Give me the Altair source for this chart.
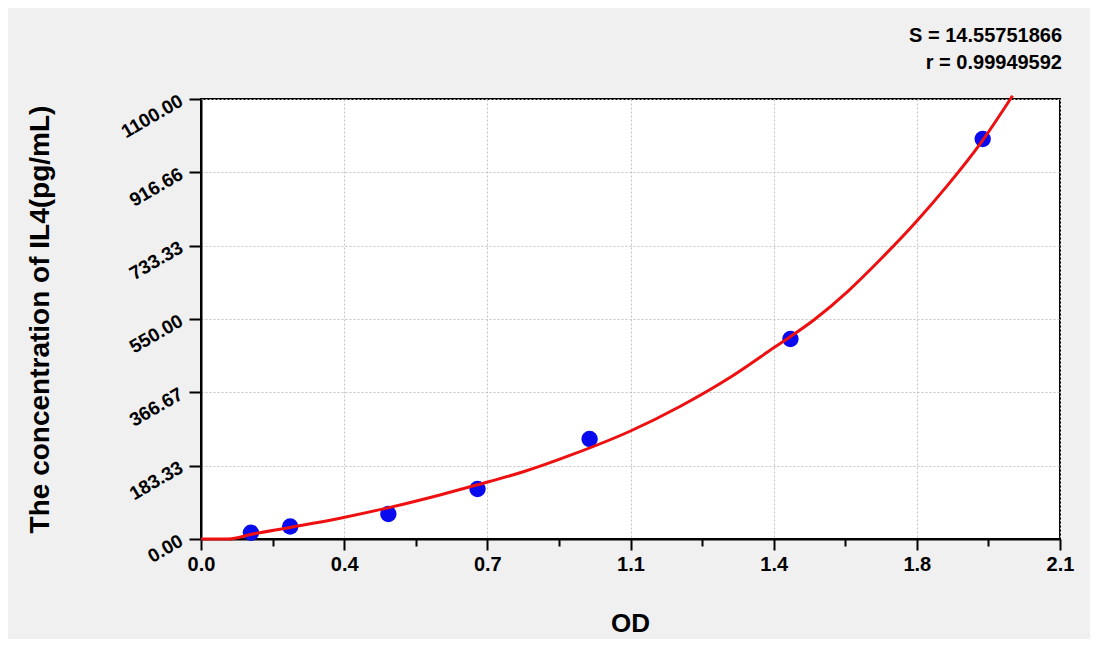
import altair as alt
import pandas as pd

# Standard points
od = [0.122, 0.218, 0.458, 0.676, 0.950, 1.441, 1.911]
conc = [15.6, 31.25, 62.5, 125, 250, 500, 1000]

# Fitted curve
curve_od = [0.0, 0.067, 0.124, 0.218, 0.34, 0.462, 0.584, 0.674, 0.788, 0.91,
            1.05, 1.172, 1.295, 1.4, 1.499, 1.58, 1.662, 1.75, 1.825, 1.907, 1.984]
curve_conc = [0, 0, 12, 29, 52, 79, 110, 135, 168, 212,
              270, 332, 405, 478, 548, 618, 700, 795, 884, 991, 1108]

x_major = [0.0, 0.35, 0.7, 1.05, 1.4, 1.75, 2.1]
y_major = [0.0, 183.33, 366.67, 550.0, 733.33, 916.66, 1100.0]
stats = ["S = 14.55751866", "r = 0.99949592"]

x_title = "OD"
y_title = "The concentration of IL4(pg/mL)"

def subdiv(majors, n=4):
    out = list(majors)
    for a, b in zip(majors[:-1], majors[1:]):
        for k in range(1, n):
            out.append(a + (b - a) * k / n)
    return sorted(out)

x_all = subdiv(x_major)
y_all = subdiv(y_major)

def js_arr(v):
    return "[" + ",".join(repr(float(t)) for t in v) + "]"

x_test = f"indexof({js_arr(x_major)}, datum.value) >= 0"
y_test = f"indexof({js_arr(y_major)}, datum.value) >= 0"

pts = pd.DataFrame({"od": od, "conc": conc})
crv = pd.DataFrame({"od": curve_od, "conc": curve_conc})
txt = pd.DataFrame({"t": stats, "row": [0, 1]})

FONT = "Liberation Sans"

x_scale = alt.Scale(domain=[0, 2.1], nice=False, zero=False)
y_scale = alt.Scale(domain=[0, 1100], nice=False, zero=False)

x_axis = alt.Axis(
    values=x_all,
    labelExpr=f"{x_test} ? format(datum.value + 0.001, '.1f') : ''",
    tickSize={"condition": {"test": x_test, "value": 11}, "value": 7},
    gridColor={"condition": {"test": x_test, "value": "#C4C4C4"}, "value": "transparent"},
    gridDash=[2, 2], gridWidth=1, grid=True,
    labelFont=FONT, labelFontSize=20, labelFontWeight="bold", labelColor="black",
    labelPadding=4, labelOverlap=False, labelFlush=False,
    domainColor="black", domainWidth=2, tickColor="black", tickWidth=2,
    title=x_title, titleFont=FONT, titleFontSize=26, titleFontWeight="bold",
    titleColor="black", titleX=429, titleY=84, titleBaseline="middle", titleAlign="center",
)

y_axis = alt.Axis(
    values=y_all,
    labelExpr=f"{y_test} ? format(datum.value, '.2f') : ''",
    tickSize={"condition": {"test": y_test, "value": 12}, "value": 7},
    gridColor={"condition": {"test": y_test, "value": "#C4C4C4"}, "value": "transparent"},
    gridDash=[2, 2], gridWidth=1, grid=True,
    labelFont=FONT, labelFontSize=19, labelFontWeight="bold", labelColor="black",
    labelAngle=330, labelAlign="right", labelBaseline="middle",
    labelPadding=8, labelOverlap=False, labelFlush=False, labelBound=False,
    domainColor="black", domainWidth=2, tickColor="black", tickWidth=2,
    title=y_title, titleFont=FONT, titleFontSize=28, titleFontWeight="bold",
    titleColor="black", titleAngle=270, titleX=-161, titleY=220,
    titleAlign="center", titleBaseline="middle",
)

line = alt.Chart(crv).mark_line(color="#EE1010", strokeWidth=3, interpolate="monotone").encode(
    x=alt.X("od:Q", scale=x_scale, axis=x_axis),
    y=alt.Y("conc:Q", scale=y_scale, axis=y_axis),
    order="od:Q",
)

points = alt.Chart(pts).mark_point(filled=True, color="#0A0AEE", size=270, opacity=1).encode(
    x=alt.X("od:Q", scale=x_scale),
    y=alt.Y("conc:Q", scale=y_scale),
)

labels = alt.Chart(txt).mark_text(
    font=FONT, fontSize=20, fontWeight="bold", color="black", align="right", baseline="middle"
).encode(
    x=alt.value(861),
    y=alt.value(-63),
    text="t:N",
).transform_filter("datum.row == 0")

labels2 = alt.Chart(txt).mark_text(
    font=FONT, fontSize=20, fontWeight="bold", color="black", align="right", baseline="middle"
).encode(
    x=alt.value(861),
    y=alt.value(-36),
    text="t:N",
).transform_filter("datum.row == 1")

chart = alt.layer(points, line, labels, labels2).properties(
    width=859, height=440,
    background="#F0F0F0",
    padding={"left": 193, "top": 91, "right": 30, "bottom": 100},
    autosize=alt.AutoSizeParams(type="none"),
).configure_view(fill="white", stroke="black", strokeWidth=2)

chart.save("out.html", embed_options={"renderer": "svg", "actions": False})
